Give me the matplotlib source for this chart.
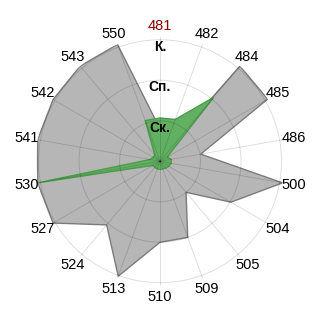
import numpy as np
import matplotlib
matplotlib.use("Agg")
import matplotlib.pyplot as plt

categories = ['481', '482', '484', '485', '486', '500', '504', '505', '509',
              '510', '513', '524', '527', '530', '541', '542', '543', '550']
grey_values = [0.8, 0.2, 3.07, 3.07, 1.02, 3.07, 2.02, 1.0, 2.0,
               2.0, 3.02, 2.05, 3.05, 3.07, 3.07, 3.05, 3.07, 3.07]
green_values = [1.07, 1.1, 2.06, 0.2, 0.28, 0.28, 0.25, 0.22, 0.2,
                0.2, 0.2, 0.2, 0.2, 3.07, 0.25, 0.2, 0.2, 1.07]
ring_values = [1, 2, 3]
ring_labels = ['Ск.', 'Сп.', 'К.']
highlight = '481'

plt.rcParams['font.family'] = ['Liberation Sans', 'DejaVu Sans']

fig = plt.figure(figsize=(3.2, 3.2), dpi=100)
ax = fig.add_axes([0.1116, 0.1075, 0.777, 0.777], projection='polar')
ax.set_theta_zero_location('N')
ax.set_theta_direction(-1)

n = len(categories)
theta = np.arange(n) * 2 * np.pi / n
tc = np.append(theta, theta[0])
gv = np.append(grey_values, grey_values[0])
gr = np.append(green_values, green_values[0])

ax.fill(tc, gv, facecolor='#b6b6b6', edgecolor='#7c7c7c', linewidth=1.0, zorder=1)
ax.fill(tc, gr, facecolor='#62b062', edgecolor='#4c9c4c', linewidth=1.0, zorder=1.1)

rmax = 3.07
ax.set_ylim(0, rmax)
ax.set_xticks(theta)
ax.set_xticklabels([])
ax.set_yticks(ring_values)
ax.set_yticklabels([])
ax.grid(True, color='black', alpha=0.13, linewidth=0.7)
ax.spines['polar'].set_visible(False)
ax.tick_params(length=0)

for t, c in zip(theta, categories):
    ax.text(t, 3.35, c, ha='center', va='center', fontsize=10.5,
            color='#8b0000' if c == highlight else 'black', zorder=5)

for rv, lab in zip(ring_values, ring_labels):
    ax.text(0, rv - 0.17, lab, ha='center', va='center', fontsize=10,
            fontweight='bold', color='black', zorder=5)

fig.savefig('out.png', dpi=100)
